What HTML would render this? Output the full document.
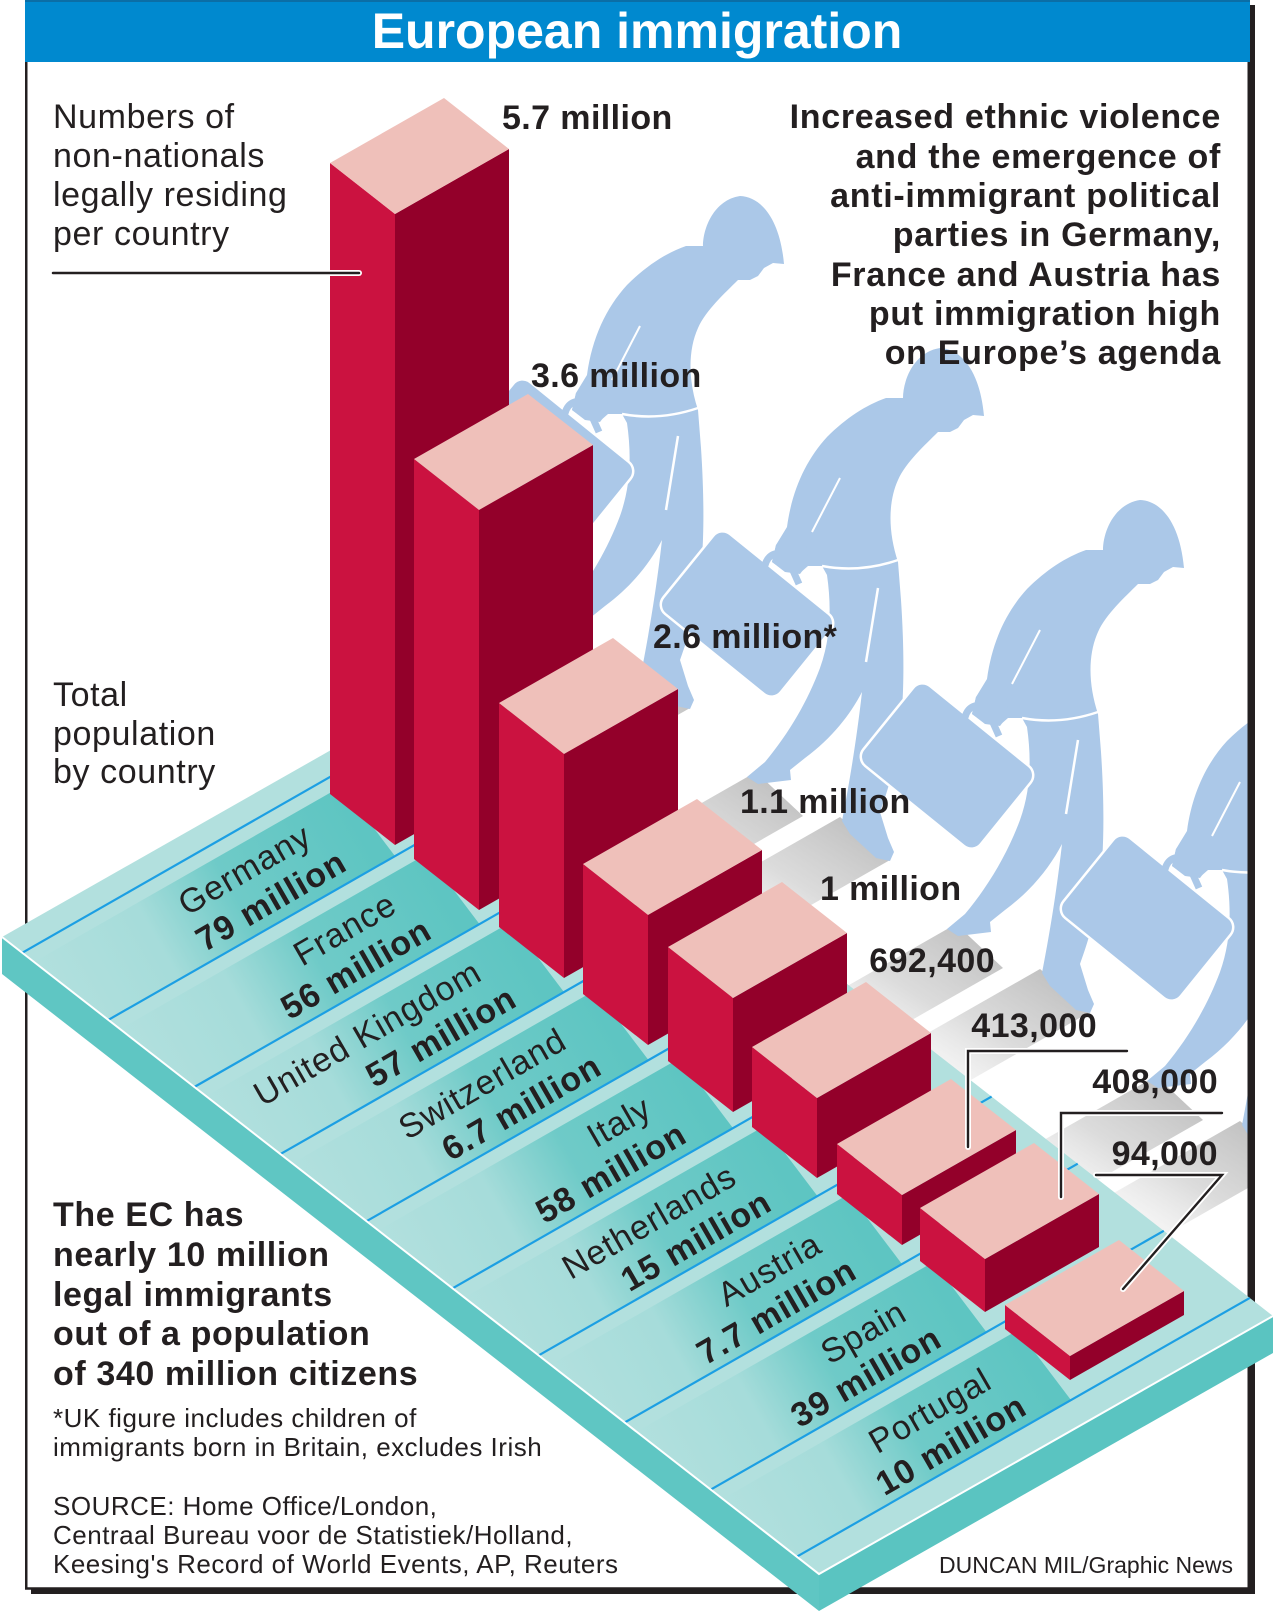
<!DOCTYPE html>
<html>
<head>
<meta charset="utf-8">
<style>
html,body{margin:0;padding:0;background:#fff;}
svg{display:block;}
text{font-family:"Liberation Sans",Arial,Helvetica,sans-serif;fill:#231f20;}
.b{font-weight:bold;}
.t33{font-size:34px;letter-spacing:0.6px;}
.rb{font-size:34px;letter-spacing:0.7px;font-weight:bold;}
.lb{font-size:34px;letter-spacing:0.6px;font-weight:bold;}
.v{font-size:34px;font-weight:bold;letter-spacing:0.4px;}
.lab{font-size:34px;letter-spacing:1px;}
.s26{font-size:26px;letter-spacing:0.5px;}
</style>
</head>
<body>
<svg width="1276" height="1620" viewBox="0 0 1276 1620" xmlns="http://www.w3.org/2000/svg">
<defs>
  <clipPath id="frameclip"><rect x="27.5" y="62" width="1220" height="1525"/></clipPath>
  <linearGradient id="sh" x1="1" y1="0" x2="0" y2="1">
    <stop offset="0" stop-color="#b8b8b8" stop-opacity="1"/>
    <stop offset="0.45" stop-color="#d0d0d0" stop-opacity="0.75"/>
    <stop offset="1" stop-color="#ffffff" stop-opacity="0"/>
  </linearGradient>
  <linearGradient id="g0" gradientUnits="userSpaceOnUse" x1="22" y1="953" x2="330" y2="777"><stop offset="0" stop-color="#5ec5c2" stop-opacity="0"/><stop offset="0.35" stop-color="#5ec5c2" stop-opacity="0.15"/><stop offset="0.6" stop-color="#5ec5c2" stop-opacity="0.8"/><stop offset="1" stop-color="#5ec5c2" stop-opacity="1"/></linearGradient>
  <linearGradient id="g1" gradientUnits="userSpaceOnUse" x1="108" y1="1020" x2="414.5" y2="845"><stop offset="0" stop-color="#5ec5c2" stop-opacity="0"/><stop offset="0.35" stop-color="#5ec5c2" stop-opacity="0.15"/><stop offset="0.6" stop-color="#5ec5c2" stop-opacity="0.8"/><stop offset="1" stop-color="#5ec5c2" stop-opacity="1"/></linearGradient>
  <linearGradient id="g2" gradientUnits="userSpaceOnUse" x1="194" y1="1087" x2="499" y2="913"><stop offset="0" stop-color="#5ec5c2" stop-opacity="0"/><stop offset="0.35" stop-color="#5ec5c2" stop-opacity="0.15"/><stop offset="0.6" stop-color="#5ec5c2" stop-opacity="0.8"/><stop offset="1" stop-color="#5ec5c2" stop-opacity="1"/></linearGradient>
  <linearGradient id="g3" gradientUnits="userSpaceOnUse" x1="280" y1="1154" x2="583.5" y2="981"><stop offset="0" stop-color="#5ec5c2" stop-opacity="0"/><stop offset="0.35" stop-color="#5ec5c2" stop-opacity="0.15"/><stop offset="0.6" stop-color="#5ec5c2" stop-opacity="0.8"/><stop offset="1" stop-color="#5ec5c2" stop-opacity="1"/></linearGradient>
  <linearGradient id="g4" gradientUnits="userSpaceOnUse" x1="366.5" y1="1221" x2="668" y2="1049"><stop offset="0" stop-color="#5ec5c2" stop-opacity="0"/><stop offset="0.35" stop-color="#5ec5c2" stop-opacity="0.15"/><stop offset="0.6" stop-color="#5ec5c2" stop-opacity="0.8"/><stop offset="1" stop-color="#5ec5c2" stop-opacity="1"/></linearGradient>
  <linearGradient id="g5" gradientUnits="userSpaceOnUse" x1="452.6" y1="1288" x2="752.5" y2="1117"><stop offset="0" stop-color="#5ec5c2" stop-opacity="0"/><stop offset="0.35" stop-color="#5ec5c2" stop-opacity="0.15"/><stop offset="0.6" stop-color="#5ec5c2" stop-opacity="0.8"/><stop offset="1" stop-color="#5ec5c2" stop-opacity="1"/></linearGradient>
  <linearGradient id="g6" gradientUnits="userSpaceOnUse" x1="538.6" y1="1355" x2="837" y2="1185"><stop offset="0" stop-color="#5ec5c2" stop-opacity="0"/><stop offset="0.35" stop-color="#5ec5c2" stop-opacity="0.15"/><stop offset="0.6" stop-color="#5ec5c2" stop-opacity="0.8"/><stop offset="1" stop-color="#5ec5c2" stop-opacity="1"/></linearGradient>
  <linearGradient id="g7" gradientUnits="userSpaceOnUse" x1="624.7" y1="1422.5" x2="921.5" y2="1253"><stop offset="0" stop-color="#5ec5c2" stop-opacity="0"/><stop offset="0.35" stop-color="#5ec5c2" stop-opacity="0.15"/><stop offset="0.6" stop-color="#5ec5c2" stop-opacity="0.8"/><stop offset="1" stop-color="#5ec5c2" stop-opacity="1"/></linearGradient>
  <linearGradient id="g8" gradientUnits="userSpaceOnUse" x1="710.8" y1="1489.6" x2="1006" y2="1321"><stop offset="0" stop-color="#5ec5c2" stop-opacity="0"/><stop offset="0.35" stop-color="#5ec5c2" stop-opacity="0.15"/><stop offset="0.6" stop-color="#5ec5c2" stop-opacity="0.8"/><stop offset="1" stop-color="#5ec5c2" stop-opacity="1"/></linearGradient>

  <g id="fig">
    <path fill="#abc8e8" d="M940,348 C962,349 980,372 984,416 L973,415 L964,420 L958,428 L950,432 L938,432 C925,445 906,462 898,480 C888,502 888,532 898,562 L901,600 C905,660 904,710 898,745 C893,775 886,795 880,812 L888,838 L894,852 L890,861 L876,858 L850,834 L842,821 C848,790 856,745 862,692 C850,715 832,738 805,758 L790,770 L791,780 L758,784 L747,777 L765,762 C790,732 808,700 820,668 C830,640 832,610 827,575 L822,566 L808,566 L800,573 L785,571 L772,562 L776,545 L787,527 C792,490 806,460 827,437 C846,418 866,405 886,398 L903,398 C903,380 914,352 940,348 Z"/>
    <rect x="-75.5" y="-51.5" width="151" height="103" rx="12" fill="#abc8e8" stroke="#fff" stroke-width="2.5" transform="translate(747,614) rotate(39)"/>
    <path d="M764,570 Q767,549 786,555 L799,584" fill="none" stroke="#abc8e8" stroke-width="7"/>
    <path fill="#abc8e8" d="M776,545 L787,538 L806,546 L809,562 L800,574 L785,572 L772,562 Z"/>
    <path d="M822,566 Q860,573 898,560" fill="none" stroke="#fff" stroke-width="2.5"/>
    <path d="M878,588 L866,662" fill="none" stroke="#fff" stroke-width="2.5"/>
    <path d="M840,478 L812,532" fill="none" stroke="#fff" stroke-width="2"/>
  </g>
</defs>

<rect width="1276" height="1620" fill="#fff"/>

<!-- frame shadow -->
<rect x="1250" y="5" width="5" height="1589" fill="#231f20"/>
<rect x="31" y="1589" width="1224" height="5" fill="#231f20"/>
<!-- frame -->
<rect x="26.25" y="1" width="1222.5" height="1587.5" fill="none" stroke="#231f20" stroke-width="2.5"/>

<!-- title bar -->
<rect x="25" y="0" width="1225" height="62" fill="#0089cf"/>
<rect x="25" y="0" width="1225" height="2" fill="#0b6ea6"/>
<text x="637" y="48" font-size="50" font-weight="bold" style="fill:#fff" text-anchor="middle">European immigration</text>

<!-- shadows and figures (clipped to frame) -->
<g clip-path="url(#frameclip)">
  <polygon fill="url(#sh)" points="556,620 603,664 433,761 386,717"/>
  <polygon fill="url(#sh)" points="640,665 690,708 520,805 470,762"/>
  <polygon fill="url(#sh)" points="756,772 803,816 633,913 586,869"/>
  <polygon fill="url(#sh)" points="840,817 890,860 720,957 670,914"/>
  <polygon fill="url(#sh)" points="956,924 1003,968 833,1065 786,1021"/>
  <polygon fill="url(#sh)" points="1040,969 1090,1012 920,1109 870,1066"/>
  <polygon fill="url(#sh)" points="1156,1076 1203,1120 1033,1217 986,1173"/>
  <polygon fill="url(#sh)" points="1240,1121 1290,1164 1120,1261 1070,1218"/>

  <use href="#fig" transform="translate(-200,-152)"/>
  <use href="#fig"/>
  <use href="#fig" transform="translate(200,152)"/>
  <use href="#fig" transform="translate(400,304)"/>
</g>

<!-- platform -->
<polygon fill="#5fc6c3" points="2,937 819,1574 819,1611 2,974"/>
<polygon fill="#5ac4c1" points="819,1574 1273,1316 1273,1353 819,1611"/>
<polygon fill="#b2e0de" points="2,937 456,679 1273,1316 819,1574"/>

<!-- lane shading -->
<polygon fill="url(#g0)" points="34.2,961.8 342,786 395,856.1 108.3,1019.9"/>
<polygon fill="url(#g1)" points="120.3,1028.9 426.5,854 479.5,924.1 194.3,1087"/>
<polygon fill="url(#g2)" points="206.3,1096 511,922 564,992.1 280.4,1154.1"/>
<polygon fill="url(#g3)" points="292.4,1163.1 595.5,990 648.5,1060.1 366.5,1221.2"/>
<polygon fill="url(#g4)" points="378.5,1230.2 680,1058 733,1128.1 452.6,1288.3"/>
<polygon fill="url(#g5)" points="464.6,1297.3 764.5,1126 817.5,1196.1 538.6,1355.4"/>
<polygon fill="url(#g6)" points="550.6,1364.4 849,1194 902,1264.1 624.7,1422.5"/>
<polygon fill="url(#g7)" points="636.7,1431.5 933.5,1262 986.5,1332.1 710.8,1489.6"/>
<polygon fill="url(#g8)" points="722.8,1498.6 1018,1330 1071,1400.1 796.8,1556.7"/>

<!-- lane lines -->
<g stroke="#1c9fe3" stroke-width="2.2">
  <line x1="22.2" y1="952.8" x2="475.2" y2="694"/>
  <line x1="108.3" y1="1019.9" x2="561.3" y2="761.1"/>
  <line x1="194.3" y1="1087" x2="647.3" y2="828.2"/>
  <line x1="280.4" y1="1154.1" x2="733.4" y2="895.3"/>
  <line x1="366.5" y1="1221.2" x2="819.5" y2="962.4"/>
  <line x1="452.6" y1="1288.3" x2="905.6" y2="1029.5"/>
  <line x1="538.6" y1="1355.4" x2="991.6" y2="1096.6"/>
  <line x1="624.7" y1="1422.5" x2="1077.7" y2="1163.7"/>
  <line x1="710.8" y1="1489.6" x2="1163.8" y2="1230.8"/>
  <line x1="796.8" y1="1556.7" x2="1249.8" y2="1297.9"/>
</g>
<polyline points="2,937 819,1574 1273,1316" fill="none" stroke="#fff" stroke-width="2"/>

<!-- bars -->
<g>
  <polygon fill="#cb1240" points="330,163 395,214 395,845 330,794"/>
  <polygon fill="#93002a" points="395,214 509,149 509,780 395,845"/>
  <polygon fill="#efc0ba" points="330,163 395,214 509,149 444,98"/>
  <polygon fill="#cb1240" points="414,459 479,510 479,910 414,859"/>
  <polygon fill="#93002a" points="479,510 593,445 593,845 479,910"/>
  <polygon fill="#efc0ba" points="414,459 479,510 593,445 528,394"/>
  <polygon fill="#cb1240" points="499,703 564,754 564,978 499,927"/>
  <polygon fill="#93002a" points="564,754 678,689 678,913 564,978"/>
  <polygon fill="#efc0ba" points="499,703 564,754 678,689 613,638"/>
  <polygon fill="#cb1240" points="583,864 648,915 648,1045 583,994"/>
  <polygon fill="#93002a" points="648,915 762,850 762,980 648,1045"/>
  <polygon fill="#efc0ba" points="583,864 648,915 762,850 697,799"/>
  <polygon fill="#cb1240" points="668,947 733,998 733,1112 668,1061"/>
  <polygon fill="#93002a" points="733,998 847,933 847,1047 733,1112"/>
  <polygon fill="#efc0ba" points="668,947 733,998 847,933 782,882"/>
  <polygon fill="#cb1240" points="752,1047 817,1098 817,1178 752,1127"/>
  <polygon fill="#93002a" points="817,1098 931,1033 931,1113 817,1178"/>
  <polygon fill="#efc0ba" points="752,1047 817,1098 931,1033 866,982"/>
  <polygon fill="#cb1240" points="837,1144 902,1195 902,1245 837,1194"/>
  <polygon fill="#93002a" points="902,1195 1016,1130 1016,1180 902,1245"/>
  <polygon fill="#efc0ba" points="837,1144 902,1195 1016,1130 951,1079"/>
  <polygon fill="#cb1240" points="920,1208 985,1259 985,1312 920,1261"/>
  <polygon fill="#93002a" points="985,1259 1099,1194 1099,1247 985,1312"/>
  <polygon fill="#efc0ba" points="920,1208 985,1259 1099,1194 1034,1143"/>
  <polygon fill="#cb1240" points="1005,1305 1070,1356 1070,1380 1005,1329"/>
  <polygon fill="#93002a" points="1070,1356 1184,1291 1184,1315 1070,1380"/>
  <polygon fill="#efc0ba" points="1005,1305 1070,1356 1184,1291 1119,1240"/>
</g>

<!-- leaders -->
<g fill="none" stroke-linecap="round" stroke-linejoin="miter">
  <line x1="53" y1="273" x2="359" y2="273" stroke="#fff" stroke-width="6"/>
  <line x1="53" y1="273" x2="359" y2="273" stroke="#231f20" stroke-width="2.5"/>
  <polyline points="1127,1051 968,1051 968,1147" stroke="#fff" stroke-width="6"/>
  <polyline points="1127,1051 968,1051 968,1147" stroke="#231f20" stroke-width="2.4"/>
  <polyline points="1222,1113 1061,1113 1061,1197" stroke="#fff" stroke-width="6"/>
  <polyline points="1222,1113 1061,1113 1061,1197" stroke="#231f20" stroke-width="2.4"/>
  <polyline points="1096,1175 1222,1175 1123,1289" stroke="#fff" stroke-width="6"/>
  <polyline points="1096,1175 1222,1175 1123,1289" stroke="#231f20" stroke-width="2.4"/>
</g>

<!-- value labels -->
<text class="v" x="502" y="129">5.7 million</text>
<text class="v" x="531" y="387">3.6 million</text>
<text class="v" x="653" y="648">2.6 million*</text>
<text class="v" x="740" y="813">1.1 million</text>
<text class="v" x="820" y="900">1 million</text>
<text class="v" x="995" y="972" text-anchor="end">692,400</text>
<text class="v" x="1097" y="1037" text-anchor="end">413,000</text>
<text class="v" x="1218" y="1093" text-anchor="end">408,000</text>
<text class="v" x="1218" y="1165" text-anchor="end">94,000</text>

<!-- country labels -->
<g class="lab" text-anchor="end">
  <text transform="translate(314,843) rotate(-30)">Germany</text>
  <text class="b" transform="translate(349,869) rotate(-30)">79 million</text>
  <text transform="translate(399,911) rotate(-30)">France</text>
  <text class="b" transform="translate(434,937) rotate(-30)">56 million</text>
  <text transform="translate(484,979) rotate(-30)">United Kingdom</text>
  <text class="b" transform="translate(519,1005) rotate(-30)">57 million</text>
  <text transform="translate(569,1047) rotate(-30)">Switzerland</text>
  <text class="b" transform="translate(604,1073) rotate(-30)">6.7 million</text>
  <text transform="translate(654,1115) rotate(-30)">Italy</text>
  <text class="b" transform="translate(689,1141) rotate(-30)">58 million</text>
  <text transform="translate(739,1183) rotate(-30)">Netherlands</text>
  <text class="b" transform="translate(774,1209) rotate(-30)">15 million</text>
  <text transform="translate(824,1251) rotate(-30)">Austria</text>
  <text class="b" transform="translate(859,1277) rotate(-30)">7.7 million</text>
  <text transform="translate(909,1319) rotate(-30)">Spain</text>
  <text class="b" transform="translate(944,1345) rotate(-30)">39 million</text>
  <text transform="translate(994,1387) rotate(-30)">Portugal</text>
  <text class="b" transform="translate(1029,1413) rotate(-30)">10 million</text>
</g>

<!-- top-left text -->
<g class="t33">
  <text x="53" y="128">Numbers of</text>
  <text x="53" y="167">non-nationals</text>
  <text x="53" y="206">legally residing</text>
  <text x="53" y="245">per country</text>
  <text x="53" y="706">Total</text>
  <text x="53" y="745">population</text>
  <text x="53" y="783">by country</text>
</g>

<!-- right text -->
<g class="rb" text-anchor="end">
  <text x="1221" y="128">Increased ethnic violence</text>
  <text x="1221" y="168">and the emergence of</text>
  <text x="1221" y="207">anti-immigrant political</text>
  <text x="1221" y="246">parties in Germany,</text>
  <text x="1221" y="286">France and Austria has</text>
  <text x="1221" y="325">put immigration high</text>
  <text x="1221" y="364">on Europe’s agenda</text>
</g>

<!-- bottom-left text -->
<g class="lb">
  <text x="53" y="1226">The EC has</text>
  <text x="53" y="1266">nearly 10 million</text>
  <text x="53" y="1306">legal immigrants</text>
  <text x="53" y="1345">out of a population</text>
  <text x="53" y="1385">of 340 million citizens</text>
</g>
<g class="s26">
  <text x="53" y="1427">*UK figure includes children of</text>
  <text x="53" y="1456">immigrants born in Britain, excludes Irish</text>
  <text x="53" y="1515">SOURCE: Home Office/London,</text>
  <text x="53" y="1544">Centraal Bureau voor de Statistiek/Holland,</text>
  <text x="53" y="1573">Keesing's Record of World Events, AP, Reuters</text>
</g>
<text x="1233" y="1573" font-size="23" text-anchor="end">DUNCAN MIL/Graphic News</text>
</svg>
</body>
</html>
